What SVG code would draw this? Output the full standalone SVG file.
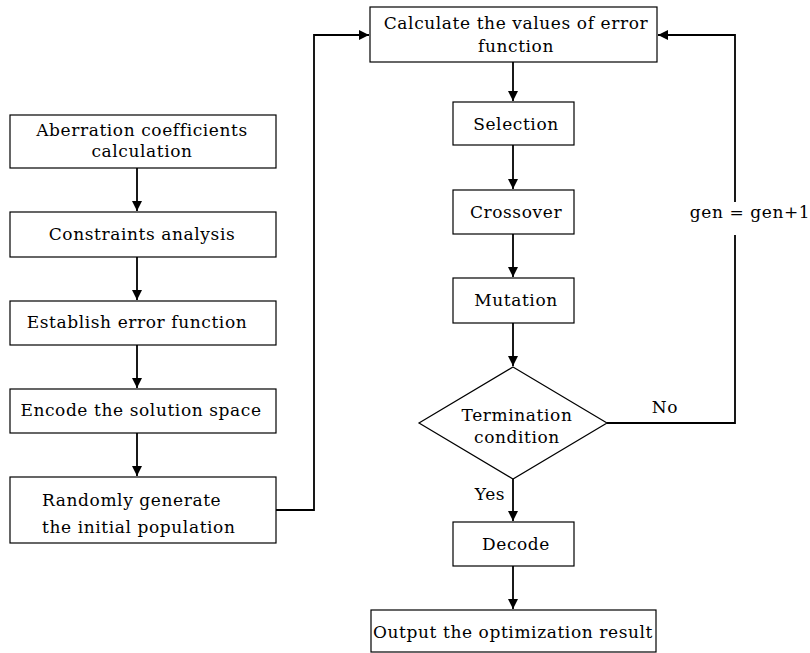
<svg xmlns="http://www.w3.org/2000/svg" width="810" height="653" viewBox="0 0 810 653">
<defs>
<marker id="ah" viewBox="0 0 10 10" refX="10" refY="5" markerWidth="10" markerHeight="10" markerUnits="userSpaceOnUse" orient="auto">
<path d="M0,0 L10,5 L0,10 z" fill="#000"/>
</marker>
<style>
.n{fill:#fff;stroke:#000;stroke-width:1.2}
text{font-family:"DejaVu Serif","Liberation Serif",serif;font-size:17px;letter-spacing:0.6px;fill:#000;text-anchor:middle}
.l{text-anchor:start}
.c{fill:none;stroke:#000;stroke-width:1.8}
.a{marker-end:url(#ah)}
</style>
</defs>
<rect width="810" height="653" fill="#fff"/>
<g id="connectors">
<path class="c a" d="M137,168 V211"/>
<path class="c a" d="M137,257 V300"/>
<path class="c a" d="M137,345 V388"/>
<path class="c a" d="M137,433 V476"/>
<path class="c a" d="M276,510 H314 V35 H369"/>
<path class="c a" d="M513,62 V101"/>
<path class="c a" d="M513,145 V189"/>
<path class="c a" d="M513,234 V277"/>
<path class="c a" d="M513,323 V366"/>
<path class="c a" d="M513,479 V521"/>
<path class="c a" d="M513,566 V609"/>
<path class="c" d="M607,423 H735 V235"/>
<path class="c a" d="M735,202 V35 H658"/>
<text x="665" y="413">No</text>
<text x="490" y="500">Yes</text>
<text x="750" y="218">gen = gen+1</text>
</g>
<g id="n1"><rect class="n" x="10" y="115" width="266" height="53"/><text x="142" y="136">Aberration coefficients</text><text x="142" y="157">calculation</text></g>
<g id="n2"><rect class="n" x="10" y="212" width="266" height="45"/><text x="142" y="240">Constraints analysis</text></g>
<g id="n3"><rect class="n" x="10" y="301" width="266" height="44"/><text x="137" y="328">Establish error function</text></g>
<g id="n4"><rect class="n" x="10" y="389" width="266" height="44"/><text x="141" y="416">Encode the solution space</text></g>
<g id="n5"><rect class="n" x="10" y="477" width="266" height="66"/><text class="l" x="42" y="506">Randomly generate</text><text class="l" x="42" y="533">the initial population</text></g>
<g id="n6"><rect class="n" x="370" y="7" width="287" height="55"/><text x="516" y="29">Calculate the values of error</text><text x="516" y="52">function</text></g>
<g id="n7"><rect class="n" x="453" y="102" width="121" height="43"/><text x="516" y="130">Selection</text></g>
<g id="n8"><rect class="n" x="453" y="190" width="121" height="44"/><text x="516" y="218">Crossover</text></g>
<g id="n9"><rect class="n" x="453" y="278" width="121" height="45"/><text x="516" y="306">Mutation</text></g>
<g id="n10"><polygon class="n" points="513,367 607,423 513,479 419,423"/><text x="517" y="421">Termination</text><text x="517" y="443">condition</text></g>
<g id="n11"><rect class="n" x="453" y="522" width="121" height="44"/><text x="516" y="550">Decode</text></g>
<g id="n12"><rect class="n" x="371" y="610" width="285" height="42"/><text x="513" y="638">Output the optimization result</text></g>
</svg>
